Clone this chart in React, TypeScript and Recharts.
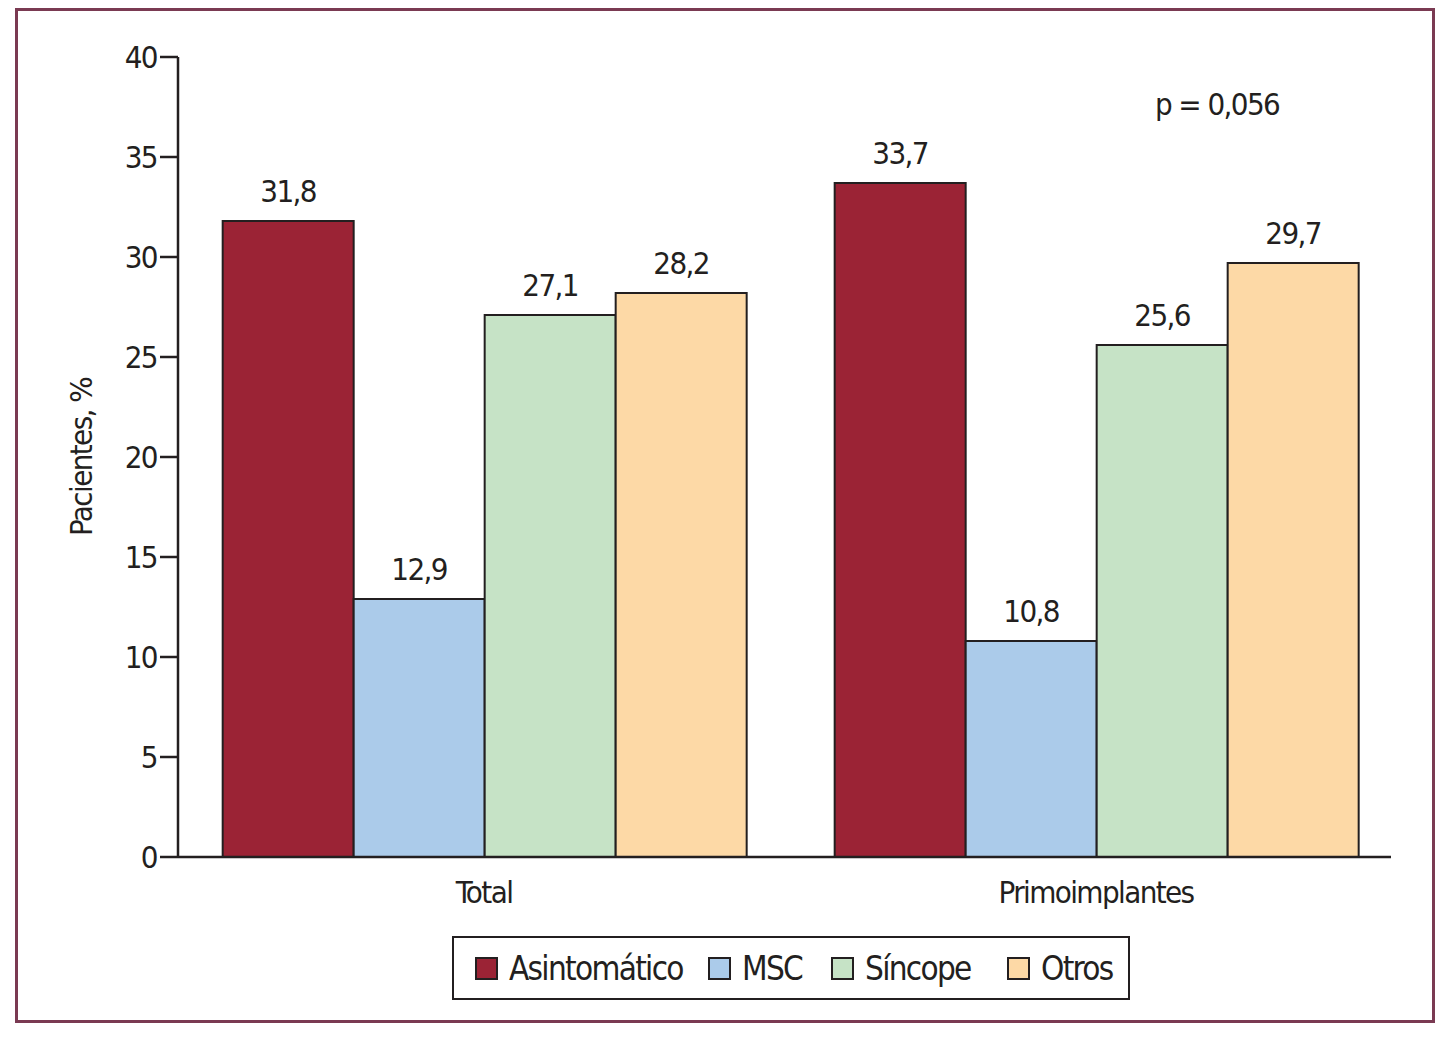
import React from "react"
import { BarChart, Bar, XAxis, YAxis, LabelList } from "recharts"

const categories = ["Total", "Primoimplantes"]
const asintomatico = [31.8, 33.7]
const msc = [12.9, 10.8]
const sincope = [27.1, 25.6]
const otros = [28.2, 29.7]
const yTicks = [0, 5, 10, 15, 20, 25, 30, 35, 40]

const series = [
  { key: "asintomatico", name: "Asintomático", color: "#9b2335", values: asintomatico },
  { key: "msc", name: "MSC", color: "#abcbea", values: msc },
  { key: "sincope", name: "Síncope", color: "#c6e3c6", values: sincope },
  { key: "otros", name: "Otros", color: "#fdd9a6", values: otros },
]

const data = categories.map((c, i) => {
  const row: Record<string, string | number> = { category: c }
  series.forEach((s) => (row[s.key] = s.values[i]))
  return row
})

const FONT = "'Liberation Sans Narrow', 'DejaVu Sans Condensed', sans-serif"
const INK = "#231f20"
const TEXT = { fill: INK, fontSize: 31, fontFamily: FONT, letterSpacing: -1.6 }

const fmt = (v: any) => String(v).replace(".", ",")

// legend item offsets inside the box (left of each swatch)
const legendLeft = [21, 254, 377, 553]

export default function App() {
  return (
    <div style={{ position: "relative", width: 1434, height: 1021, fontFamily: FONT, color: INK }}>
      <div
        style={{
          position: "absolute",
          left: 7,
          top: 0,
          width: 1414,
          height: 1009,
          border: "3px solid #7a3a52",
        }}
      />
      <BarChart
        width={1434}
        height={1021}
        data={data}
        margin={{ top: 49, right: 51, bottom: 112, left: 70 }}
        barCategoryGap="7.3%"
        barGap={0}
        style={{ position: "absolute", left: 0, top: 0 }}
      >
        <XAxis
          dataKey="category"
          padding={{ left: 0, right: -11 }}
          axisLine={{ stroke: INK, strokeWidth: 2.5 }}
          tickLine={false}
          tickSize={0}
          tickMargin={24}
          height={60}
          tick={TEXT}
        />
        <YAxis
          domain={[0, 40]}
          ticks={yTicks}
          interval={0}
          width={100}
          axisLine={{ stroke: INK, strokeWidth: 2.5 }}
          tickLine={{ stroke: INK, strokeWidth: 2.5 }}
          tickSize={18}
          tickMargin={3}
          tick={TEXT}
          label={{
            value: "Pacientes, %",
            angle: -90,
            position: "insideLeft",
            dx: -2,
            dy: 0,
            style: { ...TEXT, fontSize: 31, textAnchor: "middle" },
          }}
        />
        {series.map((s) => (
          <Bar
            key={s.key}
            dataKey={s.key}
            name={s.name}
            fill={s.color}
            stroke={INK}
            strokeWidth={2}
            isAnimationActive={false}
          >
            <LabelList dataKey={s.key} position="top" offset={19} formatter={fmt} style={TEXT} />
          </Bar>
        ))}
      </BarChart>
      <div
        style={{
          position: "absolute",
          left: 1147,
          top: 78,
          fontSize: 31,
          letterSpacing: -1.6,
          whiteSpace: "nowrap",
        }}
      >
        p = 0,056
      </div>
      <div
        style={{
          position: "absolute",
          left: 444,
          top: 928,
          width: 674,
          height: 60,
          border: "2px solid " + INK,
          background: "#fff",
        }}
      >
        {series.map((s, i) => (
          <div
            key={s.key}
            style={{
              position: "absolute",
              left: legendLeft[i],
              top: 0,
              height: 60,
              display: "flex",
              alignItems: "center",
              whiteSpace: "nowrap",
            }}
          >
            <div
              style={{
                width: 19,
                height: 19,
                background: s.color,
                border: "2px solid " + INK,
                marginRight: 11,
              }}
            />
            <span style={{ fontSize: 33, letterSpacing: -1.7 }}>{s.name}</span>
          </div>
        ))}
      </div>
    </div>
  )
}
